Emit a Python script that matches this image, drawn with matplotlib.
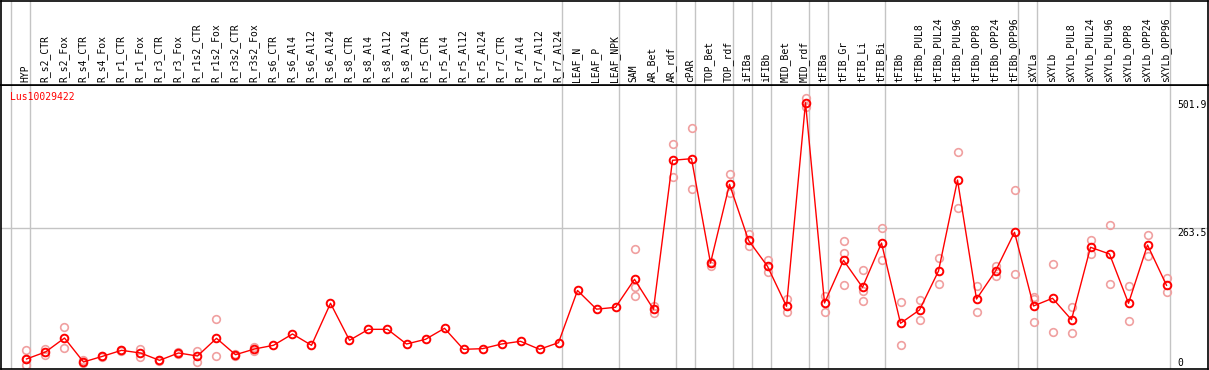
import numpy as np
import matplotlib
matplotlib.use("Agg")
import matplotlib.pyplot as plt

gene = "Lus10029422"

samples = ["HYP", "R_s2_CTR", "R_s2_Fox", "R_s4_CTR", "R_s4_Fox", "R_r1_CTR", "R_r1_Fox",
           "R_r3_CTR", "R_r3_Fox", "R_r1s2_CTR", "R_r1s2_Fox", "R_r3s2_CTR", "R_r3s2_Fox",
           "R_s6_CTR", "R_s6_Al4", "R_s6_Al12", "R_s6_Al24", "R_s8_CTR", "R_s8_Al4", "R_s8_Al12",
           "R_s8_Al24", "R_r5_CTR", "R_r5_Al4", "R_r5_Al12", "R_r5_Al24", "R_r7_CTR", "R_r7_Al4",
           "R_r7_Al12", "R_r7_Al24", "LEAF_N", "LEAF_P", "LEAF_NPK", "SAM", "AR_Bet", "AR_rdf",
           "cPAR", "TOP_Bet", "TOP_rdf", "iFIBa", "iFIBb", "MID_Bet", "MID_rdf", "tFIBa",
           "tFIB_Gr", "tFIB_Li", "tFIB_Bi", "tFIBb", "tFIBb_PUL8", "tFIBb_PUL24", "tFIBb_PUL96",
           "tFIBb_OPP8", "tFIBb_OPP24", "tFIBb_OPP96", "sXYLa", "sXYLb", "sXYLb_PUL8",
           "sXYLb_PUL24", "sXYLb_PUL96", "sXYLb_OPP8", "sXYLb_OPP24", "sXYLb_OPP96"]

# mean expression per sample
means = [17.8, 30.9, 57, 12.2, 22.8, 34, 29, 15.3, 29, 23.4,
         56.5, 25.8, 36.5, 43.4, 64.6, 43.4, 122, 52.8, 73.3, 73.3,
         45.8, 54.6, 75.2, 35.9, 37.1, 45.8, 50.9, 35.9, 48.3,
         146, 111, 114.5,
         166.9, 110.8, 389.6, 392.6, 197.4, 344.7, 239.9, 191.2, 116.4, 497.4,
         122.6, 202.5, 151.9, 234.8, 84.6,
         109.5, 182.4, 352.7, 130, 182.4, 254.9,
         117, 131.4,
         91.3, 226.8, 214.3, 122, 231.1, 155.7]

# individual replicates (empty where they sit on the mean)
replicates = [[34.6, 17.8, 6], [36, 26], [77.7, 37.8], [15.9, 10], [24, 21], [35, 33],
              [36.5, 21], [16.5, 14], [30, 28], [32, 12.7], [92, 22.8], [28, 23], [39.5, 33],
              [], [], [], [], [], [], [], [], [], [], [], [], [], [], [], [],
              [], [], [],
              [223, 153, 135.7], [117, 104.4], [420, 357.8], [449.5, 335.3], [192.4, 199],
              [363.4, 327.8], [251, 229.8], [203, 180], [130, 105.2], [505.6, 489.9],
              [135.7, 105.2], [238, 216, 155.7], [183.8, 145.6, 126.3], [262.9, 202.5],
              [124, 43.4],
              [128.2, 90.8], [206.2, 157.6], [404.5, 299.8], [154.4, 105.2], [192.4, 172.5],
              [333.5, 176.3],
              [133.8, 86.5, 130], [195.5, 67.7],
              [114.5, 65.9], [240.5, 214.3], [268, 157.6], [154.4, 88.9], [249.8, 211],
              [169.9, 142.6]]

# group separators drawn after these sample indices
separators = [-1, 0, 28, 31, 34, 35, 37, 38, 39, 41, 42, 45, 52, 53, 60]

ymax = 501.9
yref = 263.5

W, H = 1209, 370
fig = plt.figure(figsize=(W / 100, H / 100), dpi=100)
ax = fig.add_axes([1 / W, 1 / H, 1207 / W, 284 / H])
hx = fig.add_axes([1 / W, 285 / H, 1207 / W, 84.5 / H])

x = np.arange(len(samples))
xlim = (-1.342, 62.184)
mono = "DejaVu Sans Mono"

for a in (ax, hx):
    a.set_xlim(*xlim)
    a.set_xticks([])
    a.set_yticks([])
    for s in a.spines.values():
        s.set_color("black")
        s.set_linewidth(1.2)
    for k in separators:
        a.axvline(k + 0.21, color="#c4c4c4", lw=1, zorder=0)

hx.set_ylim(0, 84.5)
for i, name in enumerate(samples):
    hx.text(x[i] - 0.05, 2.5, name, rotation=90, ha="center", va="bottom",
            fontsize=7, family=mono, color="black")

ax.set_ylim(-0.94, 530.5)
ax.axhline(yref, color="#c4c4c4", lw=1, zorder=0)

for i, reps in enumerate(replicates):
    if reps:
        ax.plot([x[i]] * len(reps), reps, linestyle="none", marker="o", ms=5.5,
                mfc="none", mec="#f0a0a0", mew=1.2, zorder=2)
ax.plot(x, means, color="red", lw=1, zorder=3)
ax.plot(x, means, linestyle="none", marker="o", ms=5.5, mfc="none", mec="red",
        mew=1.4, zorder=4)

ax.text(0.0075, 0.958, gene, transform=ax.transAxes, color="red", fontsize=7,
        family=mono, va="center", ha="left")
ax.text(60.55, ymax, f"{ymax}", fontsize=7, family=mono, va="top", ha="left")
ax.text(60.55, yref, f"{yref}", fontsize=7, family=mono, va="top", ha="left")
ax.text(60.55, 0, "0", fontsize=7, family=mono, va="bottom", ha="left")

fig.savefig("out.png", dpi=100)
